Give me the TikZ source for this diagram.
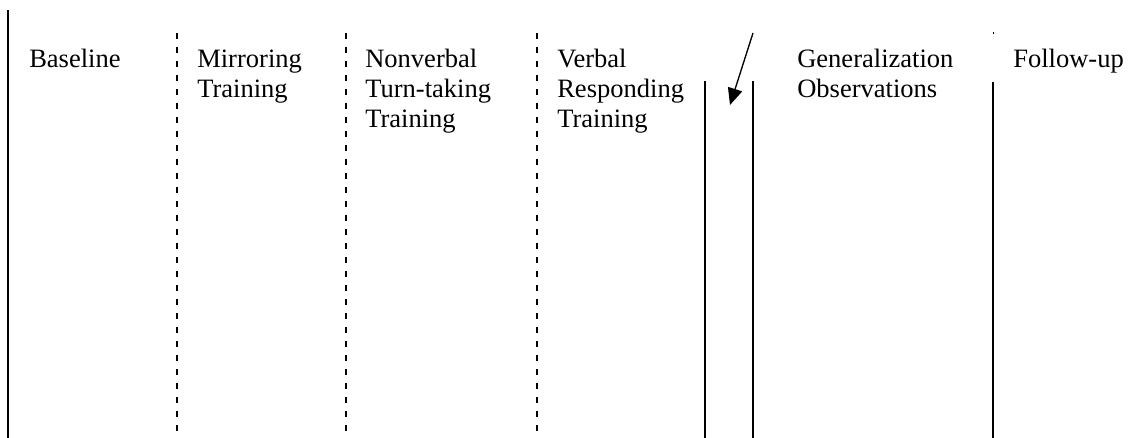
\documentclass[tikz,border=0pt]{standalone}
\usepackage{fontspec}
\setmainfont{Liberation Serif}
\usetikzlibrary{arrows.meta}
\begin{document}
\begin{tikzpicture}[x=0.75pt,y=-0.75pt,
  lbl/.style={anchor=base west,inner sep=0pt,align=left,font=\fontsize{19.9}{22.5}\selectfont},
  solidline/.style={draw=black,line width=1.1pt},
  dashline/.style={draw=black,line width=1.1pt,dash pattern=on 4.5pt off 6pt},
  pointer/.style={draw=black,line width=1pt,-{Triangle[length=12.5pt,width=11pt]}}]
\useasboundingbox (0,0) rectangle (1148,438);
% labels (base anchor = baseline of last line; line pitch 30px)
\node[lbl] (base) at (29,67.5) {Baseline};
\node[lbl] (mirr) at (197,97.5) {Mirroring\\Training};
\node[lbl] (nonv) at (365,127.5) {Nonverbal\\Turn-taking\\Training};
\node[lbl] (verb) at (557,127.5) {Verbal\\Responding\\Training};
\node[lbl] (gen) at (797,97.5) {Generalization\\Observations};
\node[lbl] (fol) at (1013,67.5) {Follow-up};
% line end points
\coordinate (l0t) at (8,10);   \coordinate (l0b) at (8,438);
\coordinate (d1t) at (177,33); \coordinate (d1b) at (177,438);
\coordinate (d2t) at (346,33); \coordinate (d2b) at (346,438);
\coordinate (d3t) at (537,33); \coordinate (d3b) at (537,438);
\coordinate (s1t) at (705,81); \coordinate (s1b) at (705,438);
\coordinate (s2t) at (753,81); \coordinate (s2b) at (753,438);
\coordinate (s3t) at (993,82); \coordinate (s3b) at (993,438);
\coordinate (s3d) at (993,32.5); \coordinate (s3e) at (993,34);
\coordinate (arS) at (753,33); \coordinate (arE) at (730,105);
% lines
\draw[solidline] (l0t) -- (l0b);
\draw[dashline] (d1t) -- (d1b);
\draw[dashline] (d2t) -- (d2b);
\draw[dashline] (d3t) -- (d3b);
\draw[solidline] (s1t) -- (s1b);
\draw[solidline] (s2t) -- (s2b);
\draw[solidline] (s3t) -- (s3b);
\draw[draw=black,line width=0.6pt] (s3d) -- (s3e);
\draw[pointer] (arS) -- (arE);
\end{tikzpicture}
\end{document}
